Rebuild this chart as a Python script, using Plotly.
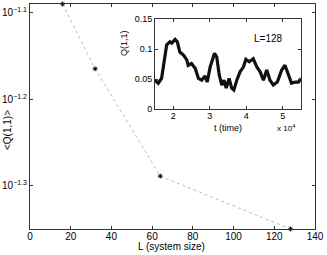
import plotly.graph_objects as go

# Main plot data
L_sizes = [16, 32, 64, 128]
Q_mean = [10**-1.0896, 10**-1.1646, 10**-1.2888, 10**-1.35]

# Inset time series (t in units of 1e4)
t_time = [1.50, 1.59, 1.68, 1.77, 1.82, 1.91, 1.96, 2.05, 2.11, 2.18, 2.28, 2.37, 2.41,
          2.50, 2.60, 2.69, 2.78, 2.87, 2.93, 3.01, 3.13, 3.19, 3.26, 3.33, 3.39, 3.45,
          3.53, 3.60, 3.66, 3.74, 3.83, 3.92, 3.99, 4.08, 4.19, 4.29, 4.38, 4.47, 4.56,
          4.65, 4.74, 4.85, 4.97, 5.06, 5.15, 5.24, 5.34, 5.43, 5.50]
Q_time = [0.048, 0.043, 0.051, 0.087, 0.107, 0.112, 0.110, 0.116, 0.112, 0.095, 0.090, 0.082, 0.073,
          0.076, 0.068, 0.051, 0.048, 0.055, 0.045, 0.070, 0.093, 0.087, 0.057, 0.040, 0.048, 0.035,
          0.051, 0.035, 0.032, 0.048, 0.062, 0.070, 0.083, 0.079, 0.084, 0.070, 0.062, 0.048, 0.065,
          0.048, 0.040, 0.045, 0.065, 0.073, 0.059, 0.043, 0.045, 0.045, 0.051]

y_tickvals = [10**-1.1, 10**-1.2, 10**-1.3]
y_ticktext = ["10<sup>−1.1</sup>", "10<sup>−1.2</sup>", "10<sup>−1.3</sup>"]
x_tickvals = [0, 20, 40, 60, 80, 100, 120, 140]
inset_xticks = [2, 3, 4, 5]
inset_yticks = [0, 0.05, 0.1, 0.15]

FONT = "Liberation Sans, Arial, sans-serif"

fig = go.Figure()
fig.add_trace(go.Scatter(
    x=L_sizes, y=Q_mean, mode="lines+markers",
    line=dict(color="#aaaaaa", width=0.8, dash="dot"),
    marker=dict(symbol="asterisk-open", size=4, color="black", line=dict(width=1, color="black")),
    cliponaxis=False, showlegend=False))
fig.add_trace(go.Scatter(
    x=t_time, y=Q_time, mode="lines", xaxis="x2", yaxis="y2",
    line=dict(color="#111111", width=3.2), showlegend=False))

axis_common = dict(showline=True, linecolor="#333333", linewidth=1, mirror="ticks",
                   ticks="inside", ticklen=3, tickcolor="#333333", showgrid=False,
                   zeroline=False, automargin=False,
                   tickfont=dict(size=9, color="black", family=FONT))
main_axis = dict(axis_common, tickfont=dict(size=10, color="black", family=FONT))

def lab(text, x, y, size, angle=0, xanchor="center"):
    return dict(xref="paper", yref="paper", x=x, y=y, text=text, showarrow=False,
                textangle=angle, xanchor=xanchor, yanchor="middle",
                font=dict(size=size, family=FONT, color="black"))

fig.update_layout(
    width=327, height=255,
    margin=dict(l=30, r=12, t=4, b=26),
    paper_bgcolor="white", plot_bgcolor="white",
    font=dict(family=FONT, size=9, color="black"),
    xaxis=dict(range=[0, 140], tickvals=x_tickvals, domain=[0, 1], ticklabelstandoff=-2,
               **main_axis),
    yaxis=dict(type="log", range=[-1.35, -1.0896], tickvals=y_tickvals, ticktext=y_ticktext,
               **main_axis),
    xaxis2=dict(domain=[0.4386, 0.951], anchor="y2", range=[1.5, 5.5], tickvals=inset_xticks,
                ticklabelstandoff=-2, **axis_common),
    yaxis2=dict(domain=[0.533, 0.933], anchor="x2", range=[0, 0.15], tickvals=inset_yticks,
                ticktext=["0", "0.05", "0.1", "0.15"], **axis_common),
    annotations=[
        lab("L (system size)", 0.498, -0.0756, 10),
        lab("&lt;Q(1,1)&gt;", -0.0807, 0.44, 10, angle=-90),
        lab("Q(1,1)", 0.33, 0.827, 9, angle=-90),
        lab("t (time)", 0.695, 0.447, 9),
        lab("x 10<sup>4</sup>", 0.937, 0.447, 8, xanchor="right"),
        dict(xref="x2", yref="y2", x=4.6, y=0.118, text="L=128", showarrow=False,
             font=dict(size=10, family=FONT, color="black")),
    ],
)

fig.write_html("out.html", config={"displayModeBar": False},
               post_script="document.body.style.margin='0';document.body.style.overflow='hidden';")
